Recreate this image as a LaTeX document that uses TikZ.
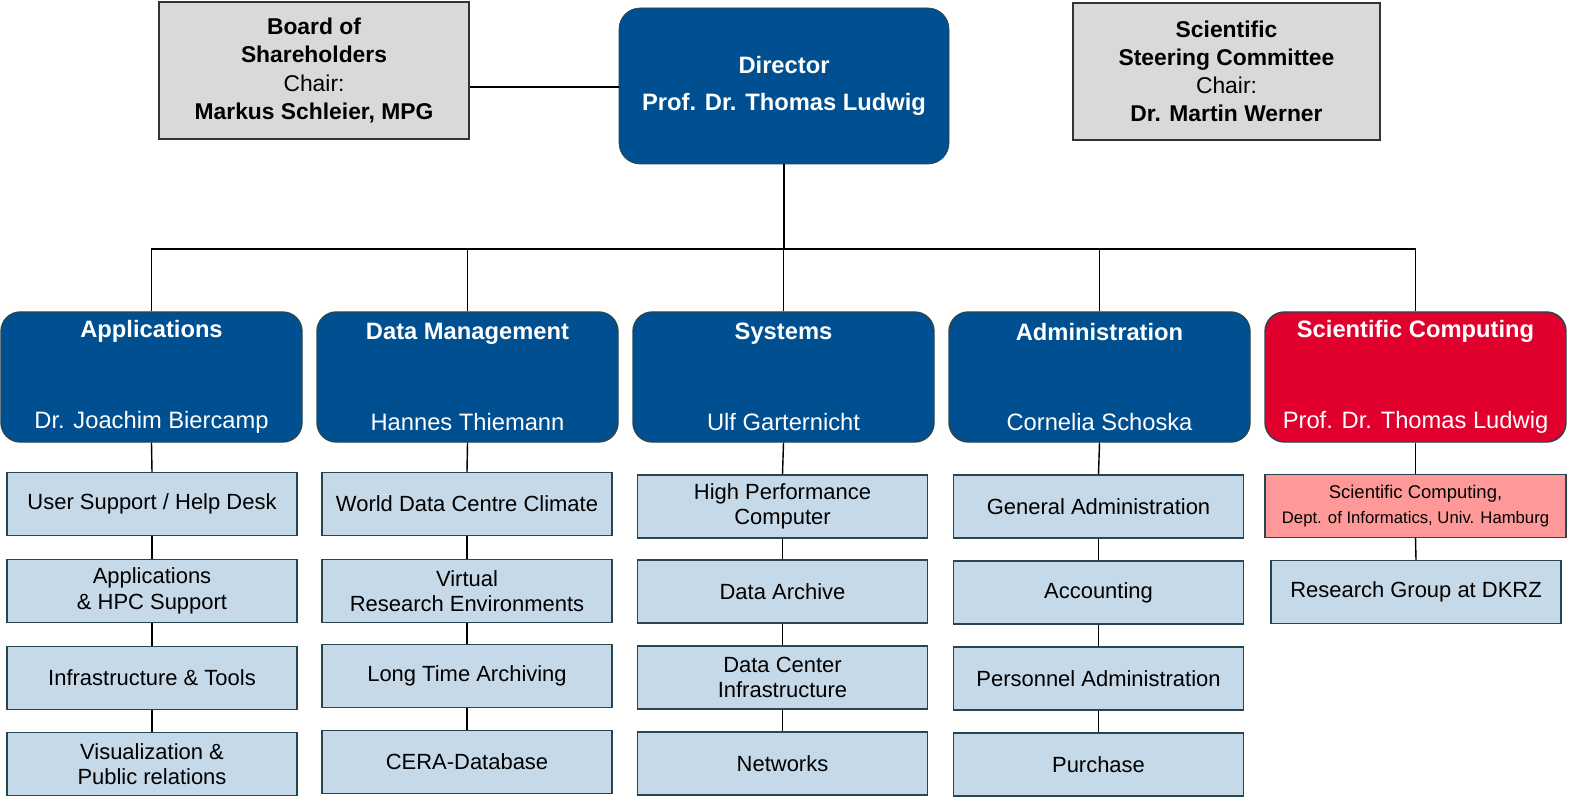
\documentclass[tikz,border=0pt]{standalone}
\usepackage{fontspec}
\setmainfont{Liberation Sans}
\usetikzlibrary{positioning, calc}
\definecolor{dkblue}{RGB}{0,80,145}
\definecolor{dkred}{RGB}{225,0,45}
\definecolor{lightblue}{RGB}{197,217,232}
\definecolor{boardgray}{RGB}{217,217,217}
\definecolor{pinkbox}{RGB}{255,153,153}
\definecolor{subborder}{RGB}{40,70,80}
\begin{document}
\begin{tikzpicture}[
    every node/.style={font=\fontsize{12.5}{14.5}\selectfont},
    govbox/.style={rectangle, draw=black!80, line width=0.8pt, fill=boardgray,
        minimum width=6.2cm, minimum height=2.74cm, align=center,
        font=\fontsize{13}{16}\selectfont},
    dirbox/.style={rectangle, draw=subborder, fill=dkblue, text=white,
        minimum width=6.6cm, minimum height=3.12cm, rounded corners=12pt,
        align=center, font=\fontsize{13.5}{21}\selectfont},
    deptbox/.style={rectangle, draw=subborder, line width=0.8pt, fill=#1, text=white,
        minimum width=6.02cm, minimum height=2.6cm, rounded corners=11pt,
        align=center, font=\fontsize{13.5}{16}\selectfont},
    unitbox/.style={rectangle, draw=subborder, line width=0.8pt, fill=lightblue,
        minimum width=5.8cm, minimum height=1.26cm, align=center, inner sep=1pt},
    link/.style={line width=0.8pt, black},
]
\useasboundingbox (0,0) rectangle (31.5,-16);

% === GOVERNANCE ===
\node[govbox] (board) at (6.28,-1.41) {\textbf{Board of}\\\textbf{Shareholders}\\Chair:\\\textbf{Markus Schleier, MPG}};
\node[dirbox] (dir) at (15.68,-1.72) {\textbf{Director}\\\textbf{Prof. Dr. Thomas Ludwig}};
\node[govbox, minimum width=6.14cm] (ssc) at (24.53,-1.43) {\textbf{Scientific}\\\textbf{Steering Committee}\\Chair:\\\textbf{Dr. Martin Werner}};

\draw[link] (board.east |- 0,-1.74) -- (dir.west |- 0,-1.74);

% === DEPARTMENTS ===
\node[deptbox=dkblue] (h1) at (3.03,-7.54) {\textbf{Applications}\\[1.25cm]Dr. Joachim Biercamp};
\node[deptbox=dkblue] (h2) at (9.35,-7.54) {\textbf{Data Management}\\[1.25cm]Hannes Thiemann};
\node[deptbox=dkblue] (h3) at (15.67,-7.54) {\textbf{Systems}\\[1.25cm]Ulf Garternicht};
\node[deptbox=dkblue] (h4) at (21.99,-7.54) {\textbf{Administration}\\[1.25cm]Cornelia Schoska};
\node[deptbox=dkred] (h5) at (28.31,-7.54) {\textbf{Scientific Computing}\\[1.25cm]Prof. Dr. Thomas Ludwig};

\coordinate (bus) at (15.68,-4.98);
\draw[link] (dir.south) -- (bus);
\foreach \i in {1,...,5}
    \draw[link] (h\i.north) |- (bus);

% === UNITS ===
% Applications
\node[unitbox] (u11) at (3.04,-10.08) {User Support / Help Desk};
\node[unitbox] (u12) at (3.04,-11.82) {Applications\\\& HPC Support};
\node[unitbox] (u13) at (3.04,-13.56) {Infrastructure \& Tools};
\node[unitbox] (u14) at (3.04,-15.28) {Visualization \&\\Public relations};
% Data Management
\node[unitbox] (u21) at (9.34,-10.08) {World Data Centre Climate};
\node[unitbox] (u22) at (9.34,-11.82) {Virtual\\Research Environments};
\node[unitbox] (u23) at (9.34,-13.52) {Long Time Archiving};
\node[unitbox] (u24) at (9.34,-15.24) {CERA-Database};
% Systems
\node[unitbox] (u31) at (15.65,-10.13) {High Performance\\Computer};
\node[unitbox] (u32) at (15.65,-11.83) {Data Archive};
\node[unitbox] (u33) at (15.65,-13.55) {Data Center\\Infrastructure};
\node[unitbox] (u34) at (15.65,-15.27) {Networks};
% Administration
\node[unitbox] (u41) at (21.97,-10.13) {General Administration};
\node[unitbox] (u42) at (21.97,-11.85) {Accounting};
\node[unitbox] (u43) at (21.97,-13.57) {Personnel Administration};
\node[unitbox] (u44) at (21.97,-15.29) {Purchase};
% Scientific Computing
\node[unitbox, fill=pinkbox, minimum width=6.02cm] (u51) at (28.31,-10.12)
    {\fontsize{10.5}{12}\selectfont Scientific Computing,\\\fontsize{9.5}{11}\selectfont Dept. of Informatics, Univ. Hamburg};
\node[unitbox] (u52) at (28.32,-11.84) {Research Group at DKRZ};

\foreach \i in {1,...,4} {
    \draw[link] (h\i.south) -- (u\i1.north);
    \draw[link] (u\i1.south) -- (u\i2.north);
    \draw[link] (u\i2.south) -- (u\i3.north);
    \draw[link] (u\i3.south) -- (u\i4.north);
}
\draw[link] (h5.south) -- (u51.north);
\draw[link] (u51.south) -- (u52.north);

\end{tikzpicture}
\end{document}
